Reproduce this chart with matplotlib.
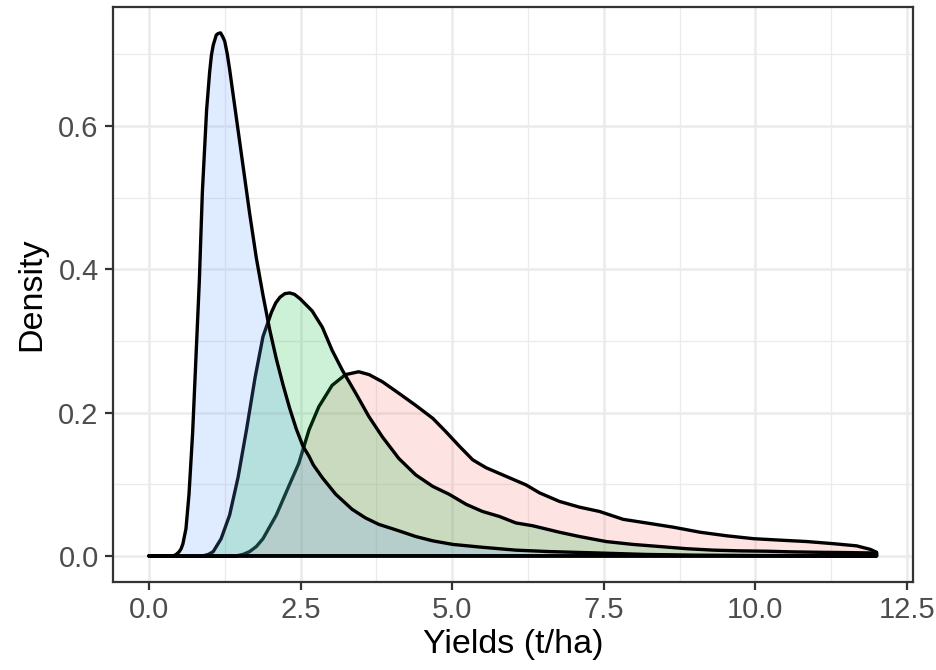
import matplotlib
matplotlib.use("Agg")
import matplotlib.pyplot as plt
from matplotlib.ticker import MultipleLocator

plt.rcParams['font.family'] = ['Liberation Sans', 'DejaVu Sans']

# density curves (x in t/ha, y = density)
RED_X = [0.0, 1.44, 1.55, 1.66, 1.77, 1.88, 2.10, 2.32, 2.47, 2.64, 2.80, 3.02,
         3.24, 3.46, 3.63, 3.85, 4.12, 4.40, 4.68, 4.90, 5.12, 5.34, 5.56, 5.89,
         6.22, 6.44, 6.77, 7.10, 7.43, 7.82, 8.20, 8.65, 9.09, 9.53, 9.97, 10.4,
         10.85, 11.29, 11.67, 11.9, 12.0]
RED_Y = [0.0, 0.0, 0.002, 0.006, 0.013, 0.024, 0.057, 0.100, 0.129, 0.176, 0.208,
         0.238, 0.253, 0.257, 0.253, 0.243, 0.227, 0.210, 0.192, 0.173, 0.153,
         0.134, 0.123, 0.111, 0.099, 0.088, 0.076, 0.068, 0.062, 0.051, 0.046,
         0.040, 0.033, 0.028, 0.024, 0.022, 0.020, 0.017, 0.014, 0.009, 0.005]

GREEN_X = [0.0, 0.89, 0.98, 1.06, 1.19, 1.33, 1.47, 1.61, 1.75, 1.88, 2.02, 2.09,
           2.16, 2.24, 2.32, 2.40, 2.49, 2.69, 2.86, 3.02, 3.19, 3.41, 3.63, 3.85,
           4.12, 4.40, 4.68, 4.95, 5.23, 5.50, 5.78, 6.05, 6.33, 6.77, 7.10, 7.54,
           7.98, 8.43, 8.87, 9.31, 9.75, 10.2, 10.6, 11.07, 11.5, 12.0]
GREEN_Y = [0.0, 0.0, 0.002, 0.006, 0.024, 0.057, 0.110, 0.177, 0.249, 0.306, 0.340,
           0.353, 0.361, 0.366, 0.367, 0.365, 0.359, 0.342, 0.319, 0.287, 0.259,
           0.227, 0.194, 0.166, 0.136, 0.113, 0.097, 0.086, 0.072, 0.062, 0.055,
           0.046, 0.042, 0.033, 0.027, 0.020, 0.016, 0.013, 0.010, 0.008, 0.007,
           0.0065, 0.0056, 0.005, 0.0046, 0.004]

BLUE_X = [0.0, 0.40, 0.45, 0.50, 0.53, 0.56, 0.61, 0.63, 0.66, 0.72, 0.77, 0.83,
          0.88, 0.95, 1.00, 1.03, 1.06, 1.11, 1.14, 1.18, 1.22, 1.25, 1.29, 1.33,
          1.44, 1.55, 1.66, 1.77, 1.88, 1.99, 2.10, 2.21, 2.32, 2.43, 2.54, 2.64,
          2.71, 2.86, 3.08, 3.35, 3.57, 3.79, 4.12, 4.40, 4.68, 5.01, 5.50, 6.05,
          6.60, 7.43, 8.2, 9.0, 10.0, 12.0]
BLUE_Y = [0.0, 0.0, 0.002, 0.006, 0.010, 0.017, 0.038, 0.057, 0.086, 0.172, 0.268,
          0.383, 0.507, 0.622, 0.675, 0.699, 0.713, 0.727, 0.729, 0.730, 0.724,
          0.718, 0.701, 0.679, 0.612, 0.545, 0.478, 0.416, 0.364, 0.316, 0.275,
          0.239, 0.206, 0.177, 0.153, 0.139, 0.127, 0.109, 0.086, 0.065, 0.053,
          0.044, 0.035, 0.027, 0.021, 0.016, 0.012, 0.008, 0.006, 0.004, 0.002,
          0.001, 0.0005, 0.0]

X_TICKS = [0.0, 2.5, 5.0, 7.5, 10.0, 12.5]
Y_TICKS = [0.0, 0.2, 0.4, 0.6]

series = [
    (RED_X, RED_Y, (0xF8 / 255, 0x76 / 255, 0x6D / 255, 0.2)),
    (GREEN_X, GREEN_Y, (0x00 / 255, 0xBA / 255, 0x38 / 255, 0.2)),
    (BLUE_X, BLUE_Y, (0x61 / 255, 0x9C / 255, 0xFF / 255, 0.2)),
]

fig = plt.figure(figsize=(9.36, 6.70), dpi=100)
ax = fig.add_axes([0.1203, 0.1313, 0.9754 - 0.1203, 0.990 - 0.1313])

for xs, ys, fc in series:
    # closed polygon, outline along the baseline as well
    px = list(xs) + [xs[-1], xs[0]]
    py = list(ys) + [0.0, 0.0]
    ax.fill(px, py, facecolor=fc, edgecolor='black', linewidth=2.4,
            joinstyle='round')

ax.set_xlim(-0.6, 12.6)
ax.set_ylim(-0.0365, 0.7665)

ax.set_xticks(X_TICKS)
ax.set_xticklabels(['%.1f' % v for v in X_TICKS])
ax.set_yticks(Y_TICKS)
ax.set_yticklabels(['%.1f' % v for v in Y_TICKS])
ax.xaxis.set_minor_locator(MultipleLocator(1.25))
ax.yaxis.set_minor_locator(MultipleLocator(0.1))

ax.set_axisbelow(True)
ax.grid(which='major', color='#EBEBEB', linewidth=1.8)
ax.grid(which='minor', color='#EBEBEB', linewidth=0.9)

for s in ax.spines.values():
    s.set_color('#333333')
    s.set_linewidth(1.6)

ax.tick_params(which='major', length=6, width=1.6, color='#333333',
               labelcolor='#4D4D4D', labelsize=21, pad=4)
ax.tick_params(which='minor', length=0)

ax.set_xlabel('Yields (t/ha)', fontsize=24.5, color='black', labelpad=4)
ax.set_ylabel('Density', fontsize=24.5, color='black', labelpad=8)

fig.savefig('out.png', dpi=100)
